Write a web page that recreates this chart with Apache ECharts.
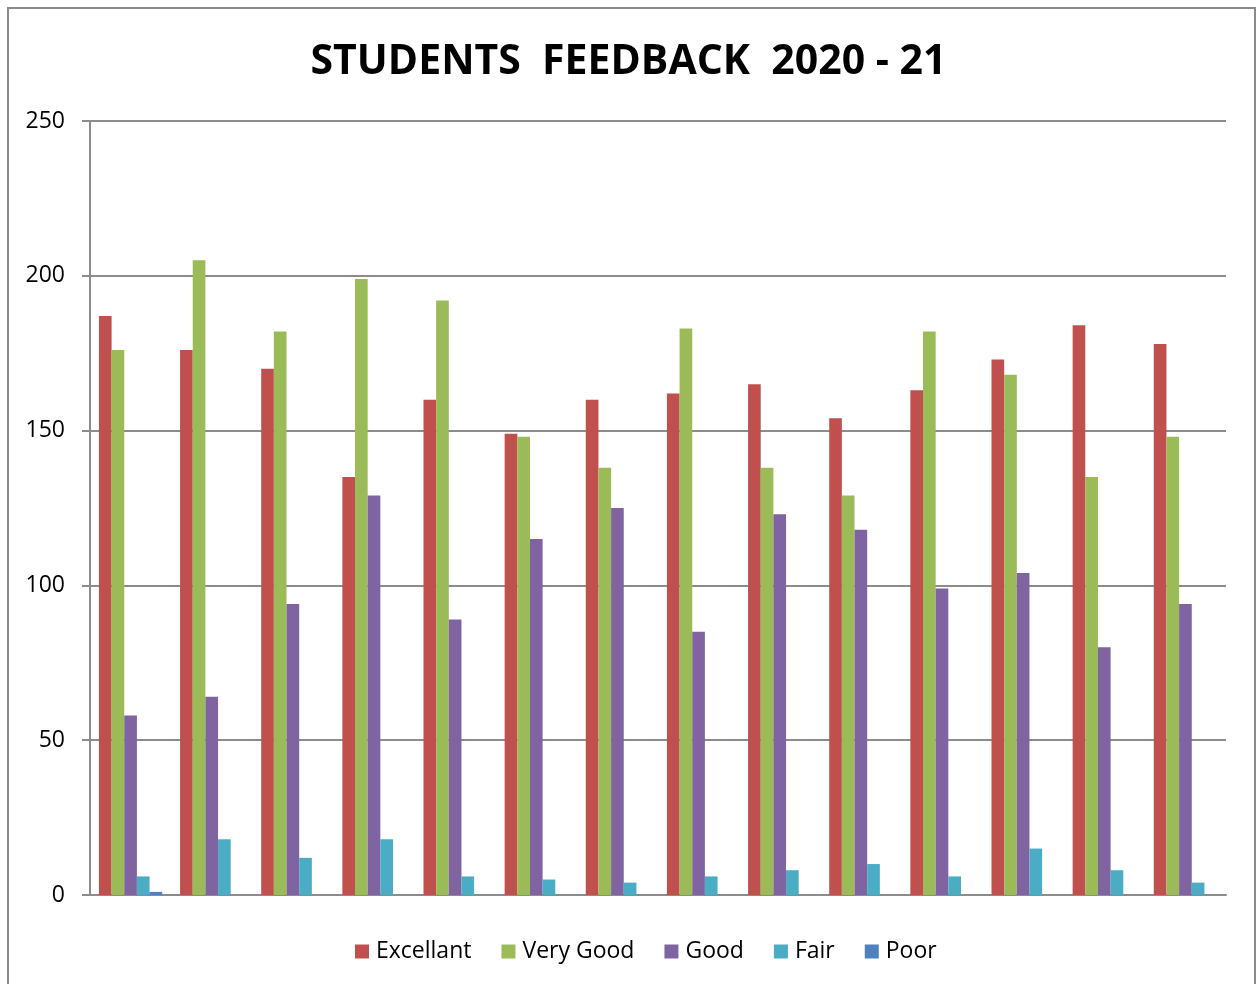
<!DOCTYPE html>
<html>
<head>
<meta charset="utf-8">
<script src="https://cdn.jsdelivr.net/npm/echarts@6/dist/echarts.min.js"></script>
<style>
  html, body { margin: 0; padding: 0; background: #ffffff; }
  #chart { width: 1257px; height: 984px; }
</style>
</head>
<body>
<div id="chart"></div>
<script>
const titleText = 'STUDENTS  FEEDBACK  2020 - 21';
const categories = ['1', '2', '3', '4', '5', '6', '7', '8', '9', '10', '11', '12', '13', '14'];
const seriesNames = ['Excellant', 'Very Good', 'Good', 'Fair', 'Poor'];
const excellant = [187, 176, 170, 135, 160, 149, 160, 162, 165, 154, 163, 173, 184, 178];
const veryGood  = [176, 205, 182, 199, 192, 148, 138, 183, 138, 129, 182, 168, 135, 148];
const good      = [58, 64, 94, 129, 89, 115, 125, 85, 123, 118, 99, 104, 80, 94];
const fair      = [6, 18, 12, 18, 6, 5, 4, 6, 8, 10, 6, 15, 8, 4];
const poor      = [1, 0, 0, 0, 0, 0, 0, 0, 0, 0, 0, 0, 0, 0];
const yTicks = [0, 50, 100, 150, 200, 250];

const colors = ['#C0504D', '#9BBB59', '#8064A2', '#4BACC6', '#4F81BD'];
const seriesData = [excellant, veryGood, good, fair, poor];

const chart = echarts.init(document.getElementById('chart'), null, { renderer: 'canvas' });
const font = '"Open Sans", "Liberation Sans", sans-serif';

chart.setOption({
  animation: false,
  backgroundColor: '#ffffff',
  color: colors,
  title: {
    text: titleText,
    left: 'center',
    top: 37,
    textStyle: { fontFamily: font, fontWeight: 'bold', fontSize: 41, color: '#000000' }
  },
  graphic: [{
    type: 'rect',
    shape: { x: 8, y: 8, width: 1247, height: 1000 },
    style: { fill: null, stroke: '#8a8a8a', lineWidth: 2 },
    silent: true
  }],
  legend: {
    bottom: 16,
    left: 350,
    padding: 5,
    icon: 'rect',
    itemWidth: 14,
    itemHeight: 14,
    itemGap: 30,
    textStyle: { fontFamily: font, fontSize: 23, color: '#000000', padding: [0, 0, 0, 2] },
    data: seriesNames
  },
  grid: { left: 90, right: 31, top: 121, bottom: 89, containLabel: false },
  xAxis: {
    type: 'category',
    data: categories,
    axisLine: { show: true, lineStyle: { color: '#8c8c8c', width: 2 } },
    axisTick: { show: false },
    axisLabel: { show: false },
    splitLine: { show: false }
  },
  yAxis: {
    type: 'value',
    min: yTicks[0],
    max: yTicks[yTicks.length - 1],
    interval: 50,
    axisLine: { show: true, lineStyle: { color: '#8c8c8c', width: 2 } },
    axisTick: { show: true, length: 8, lineStyle: { color: '#8c8c8c', width: 2 } },
    axisLabel: { margin: 25, fontFamily: font, fontSize: 23, color: '#000000' },
    splitLine: { show: true, lineStyle: { color: '#8c8c8c', width: 2 } }
  },
  series: seriesNames.map((name, i) => ({
    name: name,
    type: 'bar',
    data: seriesData[i],
    barGap: '0%',
    barCategoryGap: '22%',
    itemStyle: { color: colors[i] }
  }))
});
</script>
</body>
</html>
